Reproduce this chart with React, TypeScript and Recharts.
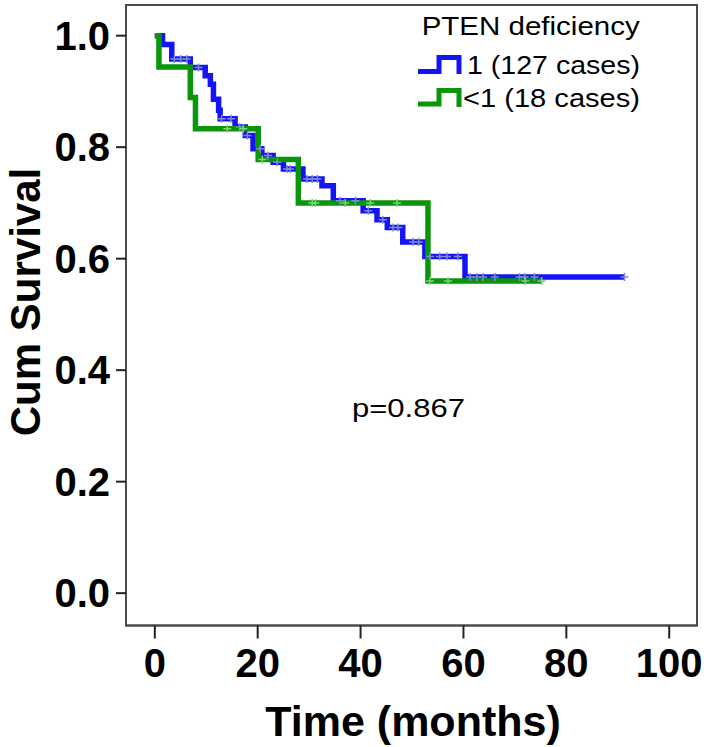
import { ComposedChart, Line, Scatter, XAxis, YAxis, ReferenceArea } from "recharts";

// PTEN = 1 (127 cases): step times (months) and cumulative survival
const blueTimes = [0, 1.5, 3.3, 6.9, 9.8, 10.8, 11.4, 12.4, 12.7, 15.6, 17.6, 19.1, 20.8, 23.0, 25.0, 28.8, 32.5, 34.7, 40.5, 43.2, 45.2, 48.2, 52.5, 60.3, 91.4];
const blueSurv = [1.0, 0.984, 0.958, 0.943, 0.928, 0.913, 0.886, 0.866, 0.851, 0.836, 0.821, 0.797, 0.785, 0.773, 0.761, 0.743, 0.731, 0.704, 0.686, 0.67, 0.656, 0.63, 0.604, 0.567, 0.567];
const blueCensored = [3.8, 5.0, 6.2, 8.5, 13.0, 14.8, 16.5, 18.0, 20.5, 22.0, 23.8, 25.7, 26.3, 29.6, 30.6, 31.6, 36.0, 39.0, 41.5, 44.3, 46.3, 47.3, 50.2, 51.3, 53.5, 55.4, 56.8, 58.9, 61.3, 62.6, 63.8, 66.1, 70.9, 71.9, 73.8, 91.3];

// PTEN < 1 (18 cases)
const greenTimes = [0, 0.8, 6.9, 7.9, 20.1, 27.9, 53.1, 75.2];
const greenSurv = [1.0, 0.944, 0.889, 0.833, 0.778, 0.7, 0.56, 0.56];
const greenCensored = [14.1, 17.2, 20.9, 30.6, 31.2, 37.0, 41.9, 47.1, 53.5, 57.0, 72.0, 75.2];

const xTicks = [0, 20, 40, 60, 80, 100];
const yTicks = [0, 0.2, 0.4, 0.6, 0.8, 1.0];

const BLUE = "#1414f5";
const GREEN = "#0a960a";
const FRAME = "#4a4a4a";
const FONT = "'Liberation Sans', Arial, sans-serif";

const toSteps = (times: number[], surv: number[]) => times.map((t, i) => ({ t, s: surv[i] }));

const survAt = (times: number[], surv: number[], t: number) => {
  let s = surv[0];
  times.forEach((tt, i) => {
    if (tt <= t) s = surv[i];
  });
  return s;
};

const blueData = toSteps(blueTimes, blueSurv);
const greenData = toSteps(greenTimes, greenSurv);
const blueMarks = blueCensored.map((t) => ({ t, s: survAt(blueTimes, blueSurv, t) }));
const greenMarks = greenCensored.map((t) => ({ t, s: survAt(greenTimes, greenSurv, t) }));

const cross = (color: string) => (props: any) => {
  const { cx, cy } = props;
  return (
    <path
      d={`M${cx - 4},${cy} H${cx + 4} M${cx},${cy - 4} V${cy + 4}`}
      stroke={color}
      strokeWidth={1.5}
      fill="none"
    />
  );
};

const tickStyle = { fontSize: 40, fontWeight: 700, fill: "#000", fontFamily: FONT };

export default function App() {
  return (
    <div style={{ position: "absolute", left: 0, top: 0, width: 711, height: 747, background: "#fff" }}>
      <ComposedChart width={711} height={747} margin={{ top: 5, right: 14, left: 6, bottom: 11.5 }}>
        <XAxis
          type="number"
          dataKey="t"
          domain={[-5.6, 105.4]}
          ticks={xTicks}
          allowDataOverflow
          height={110}
          tickSize={13}
          tickMargin={10.5}
          tick={tickStyle}
          axisLine={{ stroke: FRAME, strokeWidth: 2 }}
          tickLine={{ stroke: "#222", strokeWidth: 2 }}
        />
        <YAxis
          type="number"
          dataKey="s"
          domain={[-0.058, 1.055]}
          ticks={yTicks}
          allowDataOverflow
          width={120}
          tickSize={10}
          tickMargin={6}
          tick={tickStyle}
          tickFormatter={(v: number) => v.toFixed(1)}
          axisLine={{ stroke: FRAME, strokeWidth: 2 }}
          tickLine={{ stroke: "#222", strokeWidth: 2 }}
        />
        <ReferenceArea x1={-5.6} x2={105.4} y1={-0.058} y2={1.055} fill="none" stroke={FRAME} strokeWidth={2} fillOpacity={0} />
        <Line data={blueData} dataKey="s" type="stepAfter" stroke={BLUE} strokeWidth={5.5} dot={false} isAnimationActive={false} />
        <Line data={greenData} dataKey="s" type="stepAfter" stroke={GREEN} strokeWidth={5.5} dot={false} isAnimationActive={false} />
        <Scatter data={blueMarks} dataKey="s" shape={cross("#7d8ad8")} isAnimationActive={false} />
        <Scatter data={greenMarks} dataKey="s" shape={cross("#7fcf7f")} isAnimationActive={false} />
      </ComposedChart>
      <svg width={711} height={747} style={{ position: "absolute", left: 0, top: 0, pointerEvents: "none" }}>
        <text x={40} y={302} transform="rotate(-90 40 302)" textAnchor="middle" fontFamily={FONT} fontWeight={700} fontSize={42}>
          Cum Survival
        </text>
        <text x={413} y={736} textAnchor="middle" fontFamily={FONT} fontWeight={700} fontSize={43}>
          Time (months)
        </text>
        <text x={352} y={416.7} fontFamily={FONT} fontSize={26} textLength={113} lengthAdjust="spacingAndGlyphs">
          p=0.867
        </text>
        <text x={421.7} y={35} fontFamily={FONT} fontSize={25} textLength={218} lengthAdjust="spacingAndGlyphs">
          PTEN deficiency
        </text>
        <path d="M418,71.5 H439 V57.5 H459 V74" stroke={BLUE} strokeWidth={5} fill="none" />
        <text x={467} y={74} fontFamily={FONT} fontSize={26} textLength={173} lengthAdjust="spacingAndGlyphs">
          1 (127 cases)
        </text>
        <path d="M418,104 H439 V90.5 H459 V107" stroke={GREEN} strokeWidth={5} fill="none" />
        <text x={463} y={106.7} fontFamily={FONT} fontSize={26} textLength={177} lengthAdjust="spacingAndGlyphs">
          {"<1 (18 cases)"}
        </text>
      </svg>
    </div>
  );
}
